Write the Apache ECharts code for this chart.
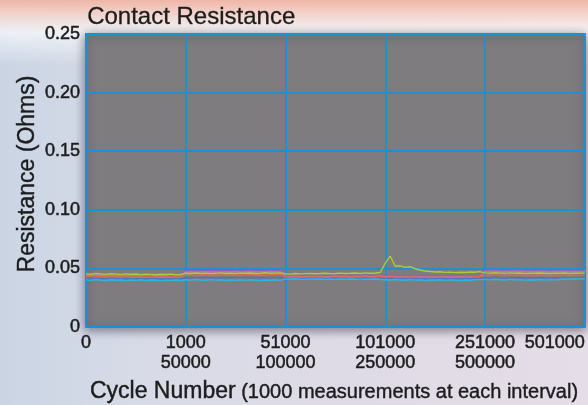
<!DOCTYPE html>
<html>
<head>
<meta charset="utf-8">
<script src="https://cdn.jsdelivr.net/npm/echarts@6/dist/echarts.min.js"></script>
<style>
html,body{margin:0;padding:0;}
#chart{width:588px;height:405px;
background:
 linear-gradient(180deg, rgba(240,180,164,0.95) 0%, rgba(246,206,194,0.85) 3%, rgba(252,236,230,0.7) 6%, rgba(255,255,255,0.65) 8%, rgba(255,255,255,0) 16%),
 linear-gradient(90deg, #cad5e4 0%, #d8dbe7 25%, #dfdbe6 60%, #e5dde7 100%);
}
</style>
</head>
<body>
<div id="chart"></div>
<script>
const PER_SECTION = 20;
const xTickLabels = ['0', '1000\n50000', '51000\n100000', '101000\n250000', '251000\n500000', '501000'];
const yTickLabels = ['0', '0.05', '0.10', '0.15', '0.20', '0.25'];
const seriesNames = ['Purple', 'Pink', 'Orange', 'Blue', 'Cyan', 'Green'];

const purple = [
0.0446,0.0449,0.0445,0.0448,0.0444,0.0447,0.0445,0.0443,0.0447,0.0444,0.0446,0.0442,0.0445,0.0443,0.0446,0.0442,0.0444,0.0441,0.0445,0.0443,
0.0479,0.0482,0.0478,0.0481,0.0484,0.0480,0.0482,0.0479,0.0483,0.0481,0.0485,0.0480,0.0483,0.0486,0.0482,0.0484,0.0481,0.0485,0.0483,0.0487,
0.0440,0.0437,0.0441,0.0439,0.0436,0.0440,0.0438,0.0441,0.0437,0.0439,0.0442,0.0438,0.0440,0.0437,0.0441,0.0439,0.0442,0.0438,0.0440,0.0443,
0.0437,0.0441,0.0438,0.0436,0.0439,0.0435,0.0438,0.0436,0.0434,0.0437,0.0435,0.0438,0.0436,0.0434,0.0437,0.0435,0.0438,0.0436,0.0439,0.0441,
0.0491,0.0488,0.0492,0.0489,0.0487,0.0490,0.0488,0.0491,0.0487,0.0489,0.0486,0.0490,0.0488,0.0485,0.0489,0.0487,0.0490,0.0486,0.0488,0.0487,0.0489];

const pink = [
0.0439,0.0442,0.0438,0.0441,0.0437,0.0440,0.0438,0.0436,0.0440,0.0437,0.0439,0.0435,0.0438,0.0436,0.0439,0.0435,0.0437,0.0434,0.0438,0.0436,
0.0468,0.0471,0.0467,0.0470,0.0472,0.0469,0.0471,0.0468,0.0472,0.0470,0.0473,0.0469,0.0471,0.0474,0.0470,0.0472,0.0469,0.0473,0.0471,0.0474,
0.0433,0.0430,0.0434,0.0432,0.0429,0.0433,0.0431,0.0434,0.0430,0.0432,0.0435,0.0431,0.0433,0.0430,0.0434,0.0432,0.0435,0.0431,0.0433,0.0436,
0.0430,0.0434,0.0431,0.0429,0.0432,0.0428,0.0431,0.0429,0.0427,0.0430,0.0428,0.0431,0.0429,0.0427,0.0430,0.0428,0.0431,0.0429,0.0432,0.0434,
0.0476,0.0473,0.0477,0.0474,0.0472,0.0475,0.0473,0.0476,0.0472,0.0474,0.0471,0.0475,0.0473,0.0470,0.0474,0.0472,0.0475,0.0471,0.0473,0.0472,0.0474];

const orange = [
0.0427,0.0430,0.0426,0.0429,0.0425,0.0428,0.0426,0.0424,0.0428,0.0425,0.0427,0.0423,0.0426,0.0424,0.0427,0.0423,0.0425,0.0422,0.0426,0.0424,
0.0441,0.0444,0.0440,0.0443,0.0446,0.0442,0.0444,0.0441,0.0445,0.0443,0.0447,0.0442,0.0445,0.0448,0.0444,0.0446,0.0443,0.0447,0.0445,0.0449,
0.0426,0.0423,0.0427,0.0425,0.0422,0.0426,0.0424,0.0427,0.0423,0.0425,0.0428,0.0424,0.0426,0.0423,0.0427,0.0425,0.0428,0.0424,0.0426,0.0429,
0.0424,0.0428,0.0425,0.0423,0.0426,0.0422,0.0425,0.0423,0.0421,0.0424,0.0422,0.0425,0.0423,0.0421,0.0424,0.0422,0.0425,0.0423,0.0426,0.0428,
0.0443,0.0440,0.0445,0.0441,0.0439,0.0443,0.0440,0.0444,0.0439,0.0442,0.0440,0.0444,0.0441,0.0438,0.0442,0.0440,0.0443,0.0439,0.0441,0.0440,0.0442];

const blue = [
0.0413,0.0416,0.0412,0.0415,0.0411,0.0414,0.0412,0.0410,0.0414,0.0411,0.0413,0.0409,0.0412,0.0410,0.0413,0.0409,0.0411,0.0408,0.0412,0.0410,
0.0418,0.0421,0.0417,0.0420,0.0422,0.0419,0.0421,0.0418,0.0422,0.0420,0.0423,0.0419,0.0421,0.0424,0.0420,0.0422,0.0419,0.0423,0.0421,0.0424,
0.0416,0.0413,0.0417,0.0415,0.0412,0.0416,0.0414,0.0417,0.0413,0.0415,0.0418,0.0414,0.0416,0.0413,0.0417,0.0415,0.0418,0.0414,0.0416,0.0419,
0.0413,0.0417,0.0414,0.0412,0.0415,0.0411,0.0414,0.0412,0.0410,0.0413,0.0411,0.0414,0.0412,0.0410,0.0413,0.0411,0.0414,0.0412,0.0415,0.0417,
0.0421,0.0418,0.0422,0.0419,0.0417,0.0421,0.0418,0.0420,0.0416,0.0419,0.0417,0.0420,0.0418,0.0415,0.0419,0.0417,0.0420,0.0416,0.0418,0.0417,0.0419];

const cyan = [
0.0402,0.0398,0.0404,0.0400,0.0397,0.0403,0.0399,0.0401,0.0396,0.0400,0.0398,0.0402,0.0397,0.0401,0.0399,0.0396,0.0400,0.0398,0.0401,0.0397,
0.0403,0.0400,0.0405,0.0401,0.0399,0.0404,0.0400,0.0402,0.0398,0.0401,0.0399,0.0403,0.0398,0.0402,0.0400,0.0397,0.0401,0.0399,0.0402,0.0398,
0.0410,0.0407,0.0412,0.0408,0.0406,0.0411,0.0407,0.0409,0.0405,0.0408,0.0406,0.0410,0.0405,0.0409,0.0407,0.0404,0.0408,0.0406,0.0409,0.0405,
0.0403,0.0400,0.0405,0.0401,0.0399,0.0404,0.0400,0.0402,0.0398,0.0401,0.0399,0.0403,0.0398,0.0402,0.0400,0.0397,0.0401,0.0399,0.0402,0.0404,
0.0405,0.0402,0.0407,0.0403,0.0401,0.0406,0.0402,0.0404,0.0400,0.0403,0.0401,0.0405,0.0400,0.0404,0.0402,0.0405,0.0407,0.0409,0.0411,0.0410,0.0412];

const green = [
0.0453,0.0450,0.0456,0.0452,0.0449,0.0454,0.0451,0.0448,0.0453,0.0450,0.0452,0.0447,0.0451,0.0449,0.0446,0.0450,0.0448,0.0451,0.0447,0.0449,
0.0459,0.0456,0.0461,0.0457,0.0460,0.0455,0.0458,0.0462,0.0457,0.0459,0.0456,0.0460,0.0458,0.0461,0.0457,0.0459,0.0463,0.0458,0.0460,0.0462,
0.0454,0.0451,0.0456,0.0453,0.0455,0.0457,0.0454,0.0456,0.0459,0.0455,0.0457,0.0460,0.0456,0.0458,0.0461,0.0457,0.0462,0.0459,0.0461,0.0465,
0.0545,0.0604,0.0518,0.0522,0.0509,0.0514,0.0497,0.0486,0.0478,0.0473,0.0469,0.0471,0.0466,0.0468,0.0464,0.0467,0.0465,0.0469,0.0467,0.0473,
0.0462,0.0459,0.0463,0.0460,0.0458,0.0462,0.0459,0.0461,0.0457,0.0460,0.0458,0.0461,0.0459,0.0456,0.0460,0.0458,0.0461,0.0457,0.0459,0.0458,0.0460];

const seriesValues = [purple, pink, orange, blue, cyan, green];
const seriesColors = ['#8e5cc4', '#c46fb4', '#e46a3c', '#4a78c8', '#2cb8de', '#a8cc3a'];

const FONT = '"Liberation Sans", Arial, Helvetica, sans-serif';
const INK = '#1c1c1c';
const BOLDEN = {textBorderColor: INK, textBorderWidth: 0.5};
const chart = echarts.init(document.getElementById('chart'), null, {renderer: 'canvas'});

chart.setOption({
  animation: false,
  backgroundColor: 'transparent',
  grid: {
    left: 86, right: 3, top: 34, bottom: 78,
    show: true,
    backgroundColor: '#7e7c7f',
    borderColor: '#1f8fd0',
    borderWidth: 2,
    shadowBlur: 10,
    shadowColor: 'rgba(40,40,50,0.55)',
    shadowOffsetX: 0,
    shadowOffsetY: 2
  },
  xAxis: {
    type: 'value', min: 0, max: 5, interval: 1,
    axisLine: {show: false}, axisTick: {show: false},
    splitLine: {show: true, lineStyle: {color: '#1f8fd0', width: 2}},
    axisLabel: Object.assign({
      margin: 6, color: INK, fontFamily: FONT, fontSize: 18, lineHeight: 20,
      alignMaxLabel: 'right',
      formatter: (v) => xTickLabels[Math.round(v)]
    }, BOLDEN)
  },
  yAxis: {
    type: 'value', min: 0, max: 0.25, interval: 0.05,
    axisLine: {show: false}, axisTick: {show: false},
    splitLine: {show: true, lineStyle: {color: '#1f8fd0', width: 2}},
    axisLabel: Object.assign({
      margin: 6, color: INK, fontFamily: FONT, fontSize: 18,
      formatter: (v) => yTickLabels[Math.round(v / 0.05)]
    }, BOLDEN)
  },
  graphic: [
    {type: 'text', left: 87, top: 5, style: {text: 'Contact Resistance', font: '24px ' + FONT, fill: INK, stroke: INK, lineWidth: 0.3}},
    {type: 'text', x: 28, y: 174, rotation: Math.PI / 2,
      style: {text: 'Resistance (Ohms)', font: '23px ' + FONT, fill: INK, stroke: INK, lineWidth: 0.4, align: 'center', verticalAlign: 'middle', textAlign: 'center', textVerticalAlign: 'middle'}},
    {type: 'text', x: 334, y: 392,
      style: {
        text: '{a|Cycle Number} {b|(1000 measurements at each interval)}',
        align: 'center', verticalAlign: 'middle', textAlign: 'center', textVerticalAlign: 'middle',
        fill: INK, font: '20px ' + FONT,
        rich: {
          a: {fontSize: 23, fontFamily: FONT, fill: INK, stroke: INK, lineWidth: 0.4},
          b: {fontSize: 20, fontFamily: FONT, fill: INK, stroke: INK, lineWidth: 0.4}
        }
      }}
  ],
  series: seriesValues.map((vals, k) => ({
    name: seriesNames[k],
    type: 'line',
    showSymbol: false,
    symbol: 'none',
    lineStyle: {width: 1.4, color: seriesColors[k]},
    data: vals.map((v, i) => [i / PER_SECTION, v])
  }))
});
</script>
</body>
</html>
